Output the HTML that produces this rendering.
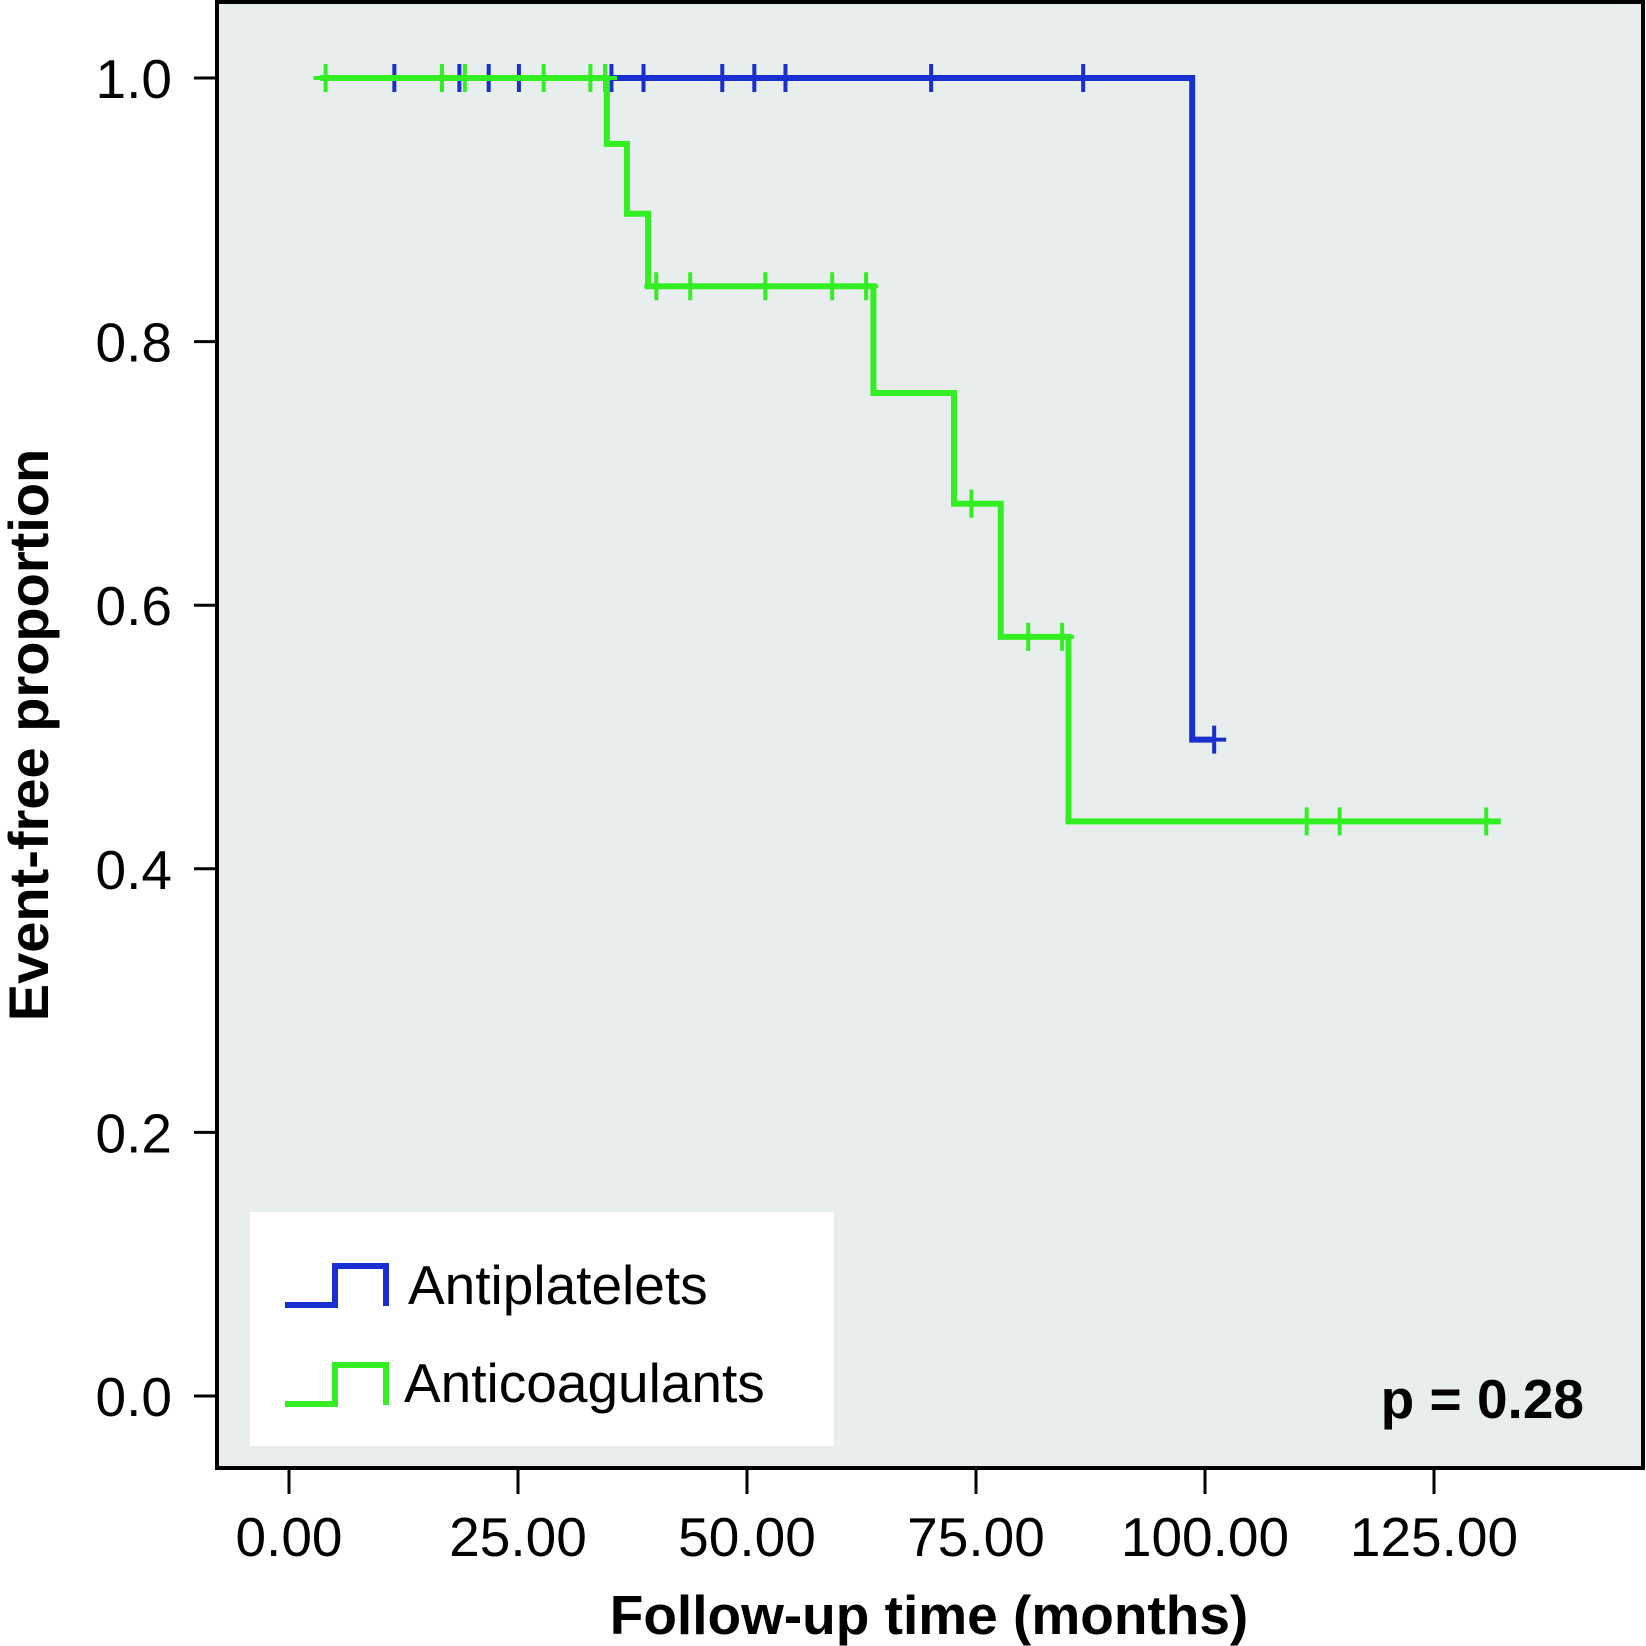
<!DOCTYPE html>
<html><head><meta charset="utf-8"><style>
html,body{margin:0;padding:0;background:#fff;}
svg{display:block;font-family:"Liberation Sans",Arial,sans-serif;}
</style></head><body>
<svg id="chart" width="1646" height="1646" viewBox="0 0 1646 1646">
<rect x="217" y="2" width="1426" height="1466" fill="#e8eded" stroke="#000" stroke-width="4"/>
<g id="axes"></g>
<g id="series"></g>
<rect x="250" y="1212" width="584" height="234" fill="#fff"/>
<g>
<path d="M285 1305 H335 V1266 H386 V1306" fill="none" stroke="#1a2fd0" stroke-width="6"/>
<text x="408" y="1304" font-size="55" fill="#000">Antiplatelets</text>
</g>
<g>
<path d="M285 1404 H335 V1365 H386 V1405" fill="none" stroke="#33ee22" stroke-width="6"/>
<text x="404" y="1402" font-size="55" fill="#000">Anticoagulants</text>
</g>
<text x="1584" y="1418" font-size="55" font-weight="bold" text-anchor="end">p = 0.28</text>
<text x="929" y="1634" font-size="55" font-weight="bold" text-anchor="middle">Follow-up time (months)</text>
<text transform="translate(48,735) rotate(-90)" font-size="56" font-weight="bold" text-anchor="middle">Event-free proportion</text>
</svg>
<script>
const xTicks=[0,25,50,75,100,125];
const xTickLabels=["0.00","25.00","50.00","75.00","100.00","125.00"];
const yTicks=[0,0.2,0.4,0.6,0.8,1.0];
const yTickLabels=["0.0","0.2","0.4","0.6","0.8","1.0"];
const antiStart=10;
const antiEnd=101;
const antiEventTimes=[98.6];
const antiEventValues=[0.498];
const antiCensor=[11.5,18.6,21.8,25.1,35.2,38.7,47.3,50.8,54.2,70.1,86.7,101];
const coagStart=3.4;
const coagEnd=132.3;
const coagEventTimes=[34.7,36.9,39.2,63.8,72.6,77.7,85.1];
const coagEventValues=[0.950,0.897,0.842,0.761,0.677,0.576,0.436];
const coagCensor=[4.0,16.7,19.2,27.8,32.9,34.5,40.1,43.8,52.0,59.3,63.0,74.5,80.7,84.4,111.1,114.7,130.7];

const NS="http://www.w3.org/2000/svg";
function sx(v){return 289+v*(1434-289)/125;}
function sy(v){return 1396-v*(1396-78);}
function mk(tag,attrs,parent){const e=document.createElementNS(NS,tag);for(const k in attrs)e.setAttribute(k,attrs[k]);parent.appendChild(e);return e;}
const axes=document.getElementById('axes');
xTicks.forEach((t,i)=>{
  const l=mk('line',{x1:sx(t),x2:sx(t),y1:1468,y2:1494,stroke:'#000','stroke-width':3},axes);
  
  
  const tx=mk('text',{x:sx(t),y:1556,'font-size':55,'text-anchor':'middle'},axes);
  tx.textContent=xTickLabels[i];
  
  
});
yTicks.forEach((t,i)=>{
  const l=mk('line',{x1:194,x2:217,y1:sy(t),y2:sy(t),stroke:'#000','stroke-width':3},axes);
  
  
  const tx=mk('text',{x:172,y:sy(t)+20,'font-size':55,'text-anchor':'end'},axes);
  tx.textContent=yTickLabels[i];
  
  
});
function valAt(t,times,vals){let v=1;for(let i=0;i<times.length;i++){if(times[i]<=t)v=vals[i];}return v;}
function drawSeries(name,start,end,times,vals,cens,color){
  const g=mk('g',{},document.getElementById('series'));
  
  
  let d='M'+sx(start)+' '+sy(1);
  times.forEach((t,i)=>{d+=' H'+sx(t)+' V'+sy(vals[i]);});
  d+=' H'+sx(end);
  const p=mk('path',{d:d,fill:'none',stroke:color,'stroke-width':6},g);
  
  
  cens.forEach(t=>{
    const y=sy(valAt(t,times,vals));
    const c=mk('path',{d:'M'+(sx(t)-12)+' '+y+' H'+(sx(t)+12)+' M'+sx(t)+' '+(y-14)+' V'+(y+14),stroke:color,'stroke-width':4,fill:'none'},g);
    
    
  });
}
drawSeries('antiplatelets',antiStart,antiEnd,antiEventTimes,antiEventValues,antiCensor,'#1a2fd0');
drawSeries('anticoagulants',coagStart,coagEnd,coagEventTimes,coagEventValues,coagCensor,'#33ee22');
</script>
</body></html>
